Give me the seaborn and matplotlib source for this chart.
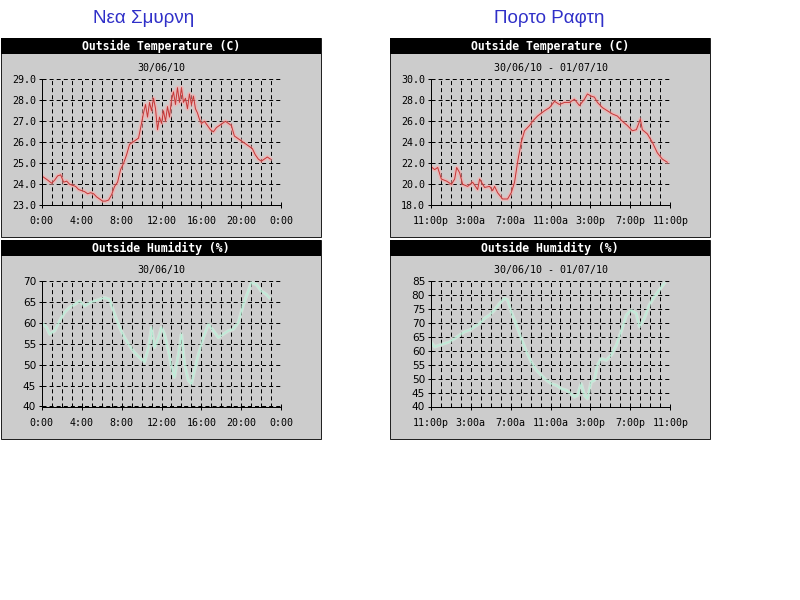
import matplotlib
matplotlib.use("Agg")
import matplotlib.pyplot as plt
from matplotlib.patches import Rectangle
from matplotlib.ticker import MultipleLocator, FixedLocator
import seaborn as sns
import numpy as np

# ---------------- data ----------------
stations = ["Νεα Σμυρνη", "Πορτο Ραφτη"]
temp_title = "Outside Temperature (C)"
hum_title = "Outside Humidity (%)"
dates_left = "30/06/10"
dates_right = "30/06/10 - 01/07/10"

xlabels_left = ["0:00", "4:00", "8:00", "12:00", "16:00", "20:00", "0:00"]
xlabels_right = ["11:00p", "3:00a", "7:00a", "11:00a", "3:00p", "7:00p", "11:00p"]

# hours since start of window
temp_left_h = [0, 0.3, 0.6, 1.0, 1.3, 1.6, 1.9, 2.2, 2.5, 2.8, 3.1, 3.4, 3.7, 4.0, 4.3, 4.6,
               4.9, 5.2, 5.5, 5.8, 6.1, 6.4, 6.7, 7.0, 7.3, 7.6, 7.9, 8.2, 8.5, 8.8, 9.1, 9.4,
               9.7, 10.0, 10.2, 10.4, 10.6, 10.8, 11.0, 11.2, 11.4, 11.6, 11.8, 12.0, 12.2,
               12.4, 12.6, 12.8, 13.0, 13.2, 13.4, 13.6, 13.8, 14.0, 14.2, 14.4, 14.6, 14.8,
               15.0, 15.2, 15.4, 15.6, 15.8, 16.0, 16.3, 16.6, 16.9, 17.2, 17.5, 17.8, 18.1,
               18.4, 18.7, 19.0, 19.3, 19.6, 19.9, 20.2, 20.5, 20.8, 21.1, 21.4, 21.7, 22.0,
               22.3, 22.6, 22.9]
temp_left_v = [24.4, 24.3, 24.2, 24.05, 24.2, 24.4, 24.45, 24.1, 24.15, 24.0, 23.95, 23.9,
               23.75, 23.7, 23.65, 23.55, 23.6, 23.55, 23.4, 23.3, 23.2, 23.2, 23.25, 23.5,
               23.9, 24.1, 24.7, 25.0, 25.4, 25.9, 26.0, 26.1, 26.2, 26.9, 27.4, 27.8, 27.2,
               27.9, 27.5, 28.1, 27.6, 26.6, 27.2, 26.9, 27.5, 27.0, 27.7, 27.2, 28.0, 28.4,
               27.8, 28.6, 27.9, 28.6, 27.9, 28.1, 27.6, 28.3, 27.8, 28.2, 27.6, 27.4, 27.1,
               26.9, 27.0, 26.8, 26.6, 26.5, 26.7, 26.8, 26.9, 27.0, 26.9, 26.8, 26.3, 26.2,
               26.1, 26.0, 25.9, 25.8, 25.7, 25.4, 25.2, 25.1, 25.2, 25.3, 25.2]

temp_right_h = [0, 0.4, 0.7, 1.07, 1.6, 2.07, 2.4, 2.6, 2.9, 3.2, 3.7, 4.2, 4.7, 4.9, 5.4,
                5.9, 6.2, 6.4, 6.7, 7.2, 7.7, 8.07, 8.4, 8.7, 9.07, 9.4, 9.9, 10.2, 10.7,
                11.4, 11.9, 12.4, 12.9, 13.4, 13.9, 14.4, 14.9, 15.4, 15.7, 16.07, 16.4,
                16.7, 17.2, 17.7, 18.2, 18.7, 19.2, 19.7, 20.2, 20.6, 21.0, 21.2, 21.7,
                22.2, 22.7, 23.2, 23.7]
temp_right_v = [21.7, 21.4, 21.6, 20.5, 20.3, 20.0, 20.5, 21.6, 21.1, 20.0, 19.8, 20.2, 19.5,
                20.5, 19.7, 19.8, 19.4, 19.8, 19.2, 18.6, 18.6, 19.2, 20.2, 22.1, 24.0, 25.1,
                25.6, 26.0, 26.5, 27.0, 27.3, 27.9, 27.6, 27.8, 27.8, 28.1, 27.5, 28.1, 28.6,
                28.4, 28.3, 27.8, 27.3, 27.0, 26.7, 26.5, 26.0, 25.6, 25.1, 25.2, 26.2, 25.2,
                24.8, 24.0, 23.0, 22.4, 22.1]

hum_left_h = [0, 0.5, 0.8, 1.3, 1.8, 2.3, 2.8, 3.3, 3.8, 4.3, 4.8, 5.3, 5.8, 6.3, 6.8, 7.3,
              7.8, 8.3, 8.8, 9.3, 9.8, 10.3, 10.7, 11.0, 11.3, 11.7, 12.0, 12.3, 12.7, 13.0,
              13.3, 13.7, 14.0, 14.3, 14.7, 15.0, 15.3, 15.7, 16.2, 16.7, 17.2, 17.7, 18.2,
              18.7, 19.2, 19.7, 20.2, 20.7, 21.0, 21.5, 22.0, 22.5, 22.8]
hum_left_v = [60.1, 58.9, 57.3, 58.1, 60.5, 62.5, 63.7, 64.4, 65.2, 64.0, 64.8, 65.2, 65.6,
              66.0, 65.6, 62.1, 58.9, 56.5, 54.5, 52.9, 51.7, 50.6, 54.1, 58.9, 54.1, 56.5,
              58.9, 57.3, 53.3, 49.4, 47.0, 52.5, 57.3, 50.2, 46.2, 45.4, 48.6, 52.5, 56.5,
              59.7, 58.1, 56.5, 57.3, 58.1, 58.5, 60.1, 64.4, 67.6, 69.6, 69.2, 67.6, 66.8,
              66.0]

hum_right_h = [0, 0.4, 0.9, 1.4, 1.9, 2.4, 2.9, 3.4, 3.9, 4.4, 4.9, 5.4, 5.9, 6.4, 6.9, 7.4,
               7.7, 8.07, 8.6, 9.07, 9.6, 10.07, 10.6, 11.07, 11.6, 12.07, 12.6, 13.07, 13.6,
               14.07, 14.4, 14.7, 15.07, 15.4, 15.7, 16.07, 16.4, 16.7, 17.07, 17.6, 18.07,
               18.6, 19.07, 19.6, 20.07, 20.6, 20.9, 21.4, 21.9, 22.4, 22.9, 23.4]
hum_right_v = [63.2, 61.4, 62.0, 62.6, 63.2, 64.4, 65.6, 66.8, 67.4, 68.6, 69.8, 71.6, 72.8,
               74.6, 77.0, 78.8, 78.2, 74.0, 69.2, 64.4, 59.6, 56.0, 53.0, 51.2, 49.4, 48.2,
               47.6, 46.4, 45.8, 44.6, 43.4, 44.0, 48.2, 44.0, 42.8, 48.8, 49.4, 54.8, 57.2,
               56.6, 58.4, 62.0, 66.8, 72.8, 74.6, 73.4, 68.6, 71.6, 76.4, 79.4, 81.8, 84.2]

# ---------------- styling ----------------
plt.rcParams["lines.scale_dashes"] = False
W, H = 800, 600
fig = plt.figure(figsize=(8, 6), dpi=100)
fig.patch.set_facecolor("white")
PX = 72 / 100  # points per pixel

MONO = "DejaVu Sans Mono"


def frect(x0, y0, x1, y1):
    return [x0 / W, 1 - y1 / H, (x1 - x0) / W, (y1 - y0) / H]


def panel(px0, px1, py0, py1, title, subtitle, ax_rect, hours, values, ylim, ystep,
          yfmt, xlabels, core, halo, core_lw, halo_lw, halo_alpha, yfont, ysize):
    # gray panel
    fig.patches.append(Rectangle((px0 / W, 1 - py1 / H), (px1 - px0) / W, (py1 - py0) / H,
                                 transform=fig.transFigure, facecolor="#cccccc",
                                 edgecolor="#222222", linewidth=1 * PX, zorder=-2))
    # black title bar
    fig.patches.append(Rectangle((px0 / W, 1 - (py0 + 16) / H), (px1 - px0) / W, 16 / H,
                                 transform=fig.transFigure, facecolor="black",
                                 edgecolor="black", linewidth=0, zorder=-1))
    cx = (px0 + px1) / 2 / W
    fig.text(cx, 1 - (py0 + 8.5) / H, title, color="white", family=MONO,
             fontweight="bold", fontsize=8.3, ha="center", va="center", zorder=2)
    ax = fig.add_axes(frect(*ax_rect))
    ax.set_zorder(5)
    ax.set_facecolor("none")
    sns.lineplot(x=hours, y=values, ax=ax, color=halo, linewidth=halo_lw, alpha=halo_alpha,
                 estimator=None, sort=False)
    sns.lineplot(x=hours, y=values, ax=ax, color=core, linewidth=core_lw,
                 estimator=None, sort=False)
    ax.set_xlim(0, 24)
    ax.set_ylim(*ylim)
    ax.xaxis.set_major_locator(FixedLocator([0, 4, 8, 12, 16, 20, 24]))
    ax.xaxis.set_minor_locator(MultipleLocator(1))
    ax.set_xticklabels(xlabels)
    yt = np.arange(ylim[0], ylim[1] + 0.001, ystep)
    ax.set_yticks(yt)
    ax.set_yticklabels([yfmt.format(v) for v in yt])
    ax.grid(True, axis="x", which="both", color="black", linewidth=1 * PX,
            linestyle=(0, (2.9, 2.2)))
    ax.grid(True, axis="y", which="major", color="black", linewidth=1 * PX,
            linestyle=(0, (2.9, 2.2)))
    ax.set_axisbelow(True)
    for s in ["top", "right"]:
        ax.spines[s].set_visible(False)
    for s in ["left", "bottom"]:
        ax.spines[s].set_color("black")
        ax.spines[s].set_linewidth(1 * PX)
    ax.tick_params(axis="both", which="major", direction="inout", length=5,
                   width=1 * PX, color="black", labelsize=7.2, labelcolor="black")
    ax.tick_params(axis="x", which="major", pad=5.5)
    ax.tick_params(axis="y", which="major", pad=1.5)
    ax.tick_params(axis="both", which="minor", length=0)
    for lab in ax.get_xticklabels():
        lab.set_family(MONO)
    for lab in ax.get_yticklabels():
        lab.set_family(yfont)
        lab.set_fontsize(ysize)
    ax.set_xlabel("")
    ax.set_ylabel("")
    # date subtitle
    ax_cx = (ax_rect[0] + ax_rect[2]) / 2 / W
    fig.text(ax_cx, 1 - (py0 + 30) / H, subtitle, family=MONO, fontsize=7.2,
             color="black", ha="center", va="center")
    return ax


TEMP = dict(core="#c83636", halo="#ffa8a8", core_lw=0.7, halo_lw=3.0, halo_alpha=0.55,
            yfont=MONO, ysize=7.2)
HUM = dict(core="#b8f2d8", halo="#d6eee2", core_lw=0.7, halo_lw=2.6, halo_alpha=0.6,
           yfont="DejaVu Sans", ysize=7.6)

panel(1, 321, 38, 237, temp_title, dates_left, (41.7, 79.3, 281.3, 205.3),
      temp_left_h, temp_left_v, (23, 29), 1, "{:.1f}", xlabels_left, **TEMP)
panel(390, 710, 38, 237, temp_title, dates_right, (430.7, 79.3, 670.3, 205.3),
      temp_right_h, temp_right_v, (18, 30), 2, "{:.1f}", xlabels_right, **TEMP)
panel(1, 321, 240, 439, hum_title, dates_left, (41.7, 281, 281.3, 406.5),
      hum_left_h, hum_left_v, (40, 70), 5, "{:.0f}", xlabels_left, **HUM)
panel(390, 710, 240, 439, hum_title, dates_right, (430.7, 281, 670.3, 406.5),
      hum_right_h, hum_right_v, (40, 85), 5, "{:.0f}", xlabels_right, **HUM)

# station names
fig.text(144 / W, 1 - 18.5 / H, stations[0], family=["Liberation Sans", "DejaVu Sans"],
         fontsize=13.5, color="#3030c8", ha="center", va="center")
fig.text(549 / W, 1 - 18.5 / H, stations[1], family=["Liberation Sans", "DejaVu Sans"],
         fontsize=13.5, color="#3030c8", ha="center", va="center")

fig.savefig("out.png", dpi=100, facecolor="white")
